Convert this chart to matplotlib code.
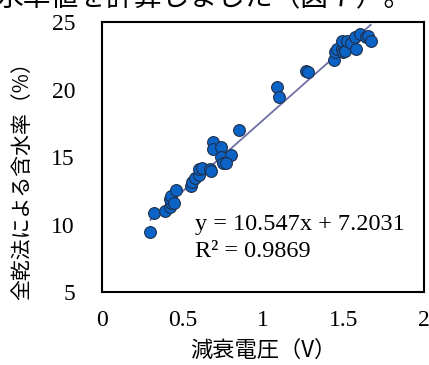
import numpy as np
import matplotlib
matplotlib.use('Agg')
import matplotlib.pyplot as plt

plt.rcParams['font.family'] = ['Liberation Serif', 'Noto Sans CJK JP']

# 減衰電圧 (V) と 全乾法による含水率 (%)
voltage = [0.30, 0.32, 0.39, 0.42, 0.43, 0.42, 0.43, 0.45, 0.46, 0.55,
           0.56, 0.58, 0.60, 0.60, 0.62, 0.67, 0.68, 0.69, 0.69, 0.74,
           0.74, 0.80, 0.75, 0.77, 0.85,
           1.09, 1.10, 1.27, 1.28,
           1.44, 1.45, 1.46, 1.49, 1.49, 1.50, 1.51, 1.52, 1.55, 1.57,
           1.58, 1.60, 1.64, 1.65, 1.67]
moisture = [9.5, 10.9, 11.0, 11.3, 11.6, 11.9, 12.1, 11.6, 12.6, 12.9,
            13.2, 13.5, 13.7, 14.1, 14.2, 14.1, 14.0, 16.1, 15.6, 15.8,
            15.0, 15.2, 14.6, 14.6, 17.0,
            20.2, 19.5, 21.4, 21.3,
            22.2, 22.8, 23.0, 23.0, 23.6, 22.8, 22.9, 23.6, 23.5, 23.9,
            23.0, 24.1, 23.9, 24.0, 23.6]

slope, intercept, r2 = 10.547, 7.2031, 0.9869
xticks = [0, 0.5, 1, 1.5, 2]
yticks = [5, 10, 15, 20, 25]

fig = plt.figure(figsize=(4.29, 3.65), dpi=100)
ax = fig.add_axes([0.238, 0.199, 0.750, 0.740])

xl = np.array([min(voltage), max(voltage)])
ax.plot(xl, slope * xl + intercept, color='#6f6fa6', linewidth=1.3, zorder=2)
ax.scatter(voltage, moisture, s=72, color='#0b63c5', edgecolor='#1f2f4a',
           linewidth=0.8, zorder=3)

ax.set_xlim(0, 2)
ax.set_ylim(5, 25)
ax.set_xticks(xticks)
ax.set_xticklabels(['0', '0.5', '1', '1.5', '2'])
ax.set_yticks(yticks)
ax.tick_params(length=0, labelsize=17)
ax.tick_params(axis='x', pad=13)
ax.tick_params(axis='y', pad=19.5)
for s in ax.spines.values():
    s.set_linewidth(1.5)

ax.text(0.29, 0.25, f'y = {slope}x + {intercept}', transform=ax.transAxes,
        fontsize=17.5, va='center')
ax.text(0.29, 0.152, f'R² = {r2}', transform=ax.transAxes,
        fontsize=17.5, va='center')

cjk = ['Noto Sans CJK JP', 'DejaVu Sans']
fig.text(263 / 429, 1 - 350 / 365, '減衰電圧（V）', family=cjk, fontsize=16,
         ha='center', va='center')
fig.text(22 / 429, 1 - 176 / 365, '全乾法による含水率（%）', family=cjk,
         fontsize=15, rotation=90, ha='center', va='center')

fig.text(-0.01, 1.005, '水率値を計算しました（図７）。', family=cjk, fontsize=20,
         va='center', ha='left')

fig.savefig('out.png', dpi=100)
